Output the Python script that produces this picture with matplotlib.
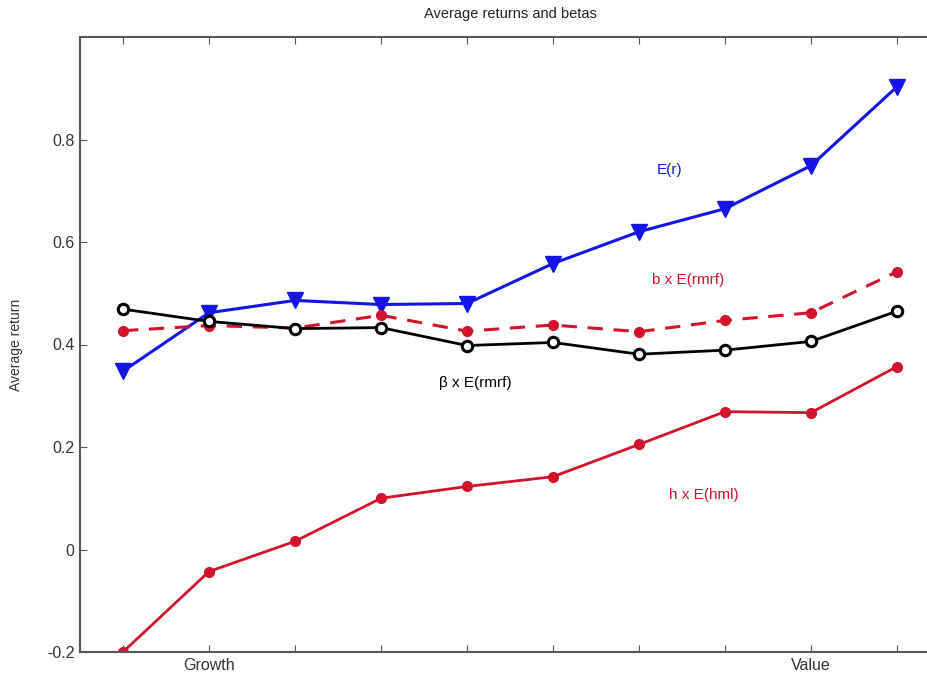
import matplotlib
matplotlib.use("Agg")
import matplotlib.pyplot as plt

portfolios = list(range(1, 11))
er = [0.348, 0.462, 0.486, 0.478, 0.480, 0.558, 0.620, 0.665, 0.749, 0.903]
b_rmrf = [0.427, 0.437, 0.432, 0.457, 0.426, 0.438, 0.425, 0.447, 0.462, 0.542]
beta_rmrf = [0.469, 0.445, 0.431, 0.433, 0.398, 0.404, 0.381, 0.389, 0.406, 0.465]
h_hml = [-0.200, -0.043, 0.016, 0.100, 0.123, 0.142, 0.205, 0.269, 0.267, 0.357]
xtick_labels = {2: "Growth", 9: "Value"}
ytick_vals = [-0.2, 0, 0.2, 0.4, 0.6, 0.8]

plt.rcParams['font.family'] = ['Liberation Sans', 'DejaVu Sans']
blue = "#1414e6"
red = "#d2132b"

fig = plt.figure(figsize=(9.28, 6.77), dpi=100)
ax = fig.add_axes([80/928, 25/677, 860/928, 615/677])

ax.plot(portfolios, er, color=blue, lw=2.2, marker='v', ms=11, mfc=blue, mec=blue)
ax.plot(portfolios, b_rmrf, color=red, lw=2.2, ls=(0, (5, 3.5)), marker='o', ms=7, mfc=red, mec=red)
ax.plot(portfolios, beta_rmrf, color='black', lw=2.0, marker='o', ms=7.5, mfc='white', mec='black', mew=2.2)
ax.plot(portfolios, h_hml, color=red, lw=2.0, marker='o', ms=7, mfc=red, mec=red)

ax.set_xlim(0.5, 10.5)
ax.set_ylim(-0.2, 1.0)
ax.set_xticks(portfolios)
ax.set_xticklabels([xtick_labels.get(p, "") for p in portfolios], fontsize=11.5, color='#333333')
ax.set_yticks(ytick_vals)
ax.set_yticklabels(["-0.2", "0", "0.2", "0.4", "0.6", "0.8"], fontsize=11.5, color='#333333')
ax.tick_params(direction='in', length=5, color='#555555', top=True, right=True, pad=4)
for s in ax.spines.values():
    s.set_color('#555555')
    s.set_linewidth(1.5)

ax.set_ylabel("Average return", fontsize=10, color='#333333', labelpad=17)
ax.set_title("Average returns and betas", fontsize=10.5, color='#222222', pad=14)

ax.text(7.35, 0.74, "E(r)", color=blue, fontsize=11, ha='center', va='center')
ax.text(7.57, 0.525, "b x E(rmrf)", color=red, fontsize=11, ha='center', va='center')
ax.text(5.1, 0.325, "β x E(rmrf)", color='black', fontsize=11, ha='center', va='center')
ax.text(7.75, 0.107, "h x E(hml)", color=red, fontsize=11, ha='center', va='center')

fig.savefig("out.png", dpi=100)
